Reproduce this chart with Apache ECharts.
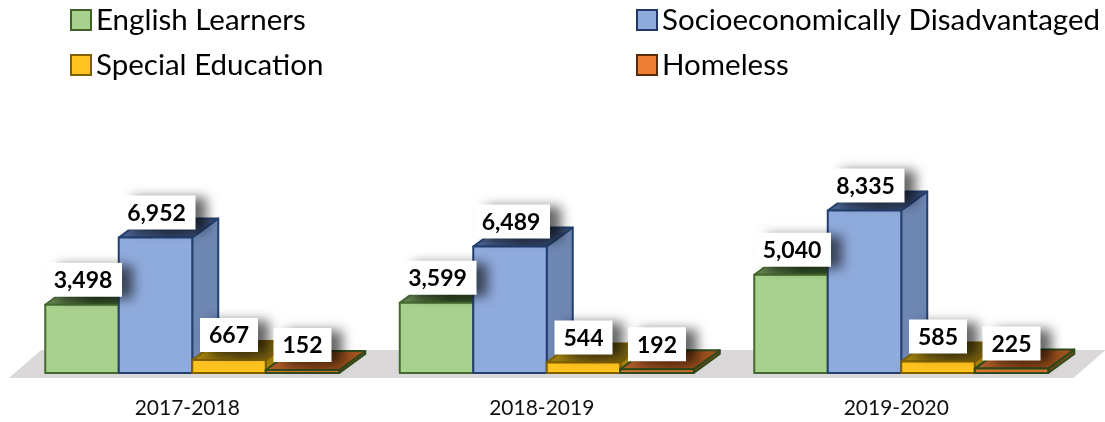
<!DOCTYPE html>
<html><head><meta charset="utf-8">
<style>html,body{margin:0;padding:0;background:#fff}#c{width:1105px;height:422px}</style>
<script src="https://cdn.jsdelivr.net/npm/echarts@6/dist/echarts.min.js"></script>
</head><body><div id="c"></div>
<script>
const categories = ['2017-2018', '2018-2019', '2019-2020'];
const englishLearners = [3498, 3599, 5040];
const socioeconomicallyDisadvantaged = [6952, 6489, 8335];
const specialEducation = [667, 544, 585];
const homeless = [152, 192, 225];

const FONT = 'Lato, Carlito, "Open Sans", sans-serif';
const BAR_FRACTION = 73.5 / 354.5;
const DX = 26, DY = -19;

const grad = (stops) => new echarts.graphic.LinearGradient(0, 0, 1, 0, stops.map((c, i) => ({offset: i / (stops.length - 1), color: c})));

const styles = [
  {name: 'English Learners', front: '#A9D18E', side: '#6f8f5a', top: ['#6f8f5a', '#2f4a22', '#3f5a2e'], edge: '#44692e', values: englishLearners, legend: '#A9D18E', legendEdge: '#3d6128'},
  {name: 'Socioeconomically Disadvantaged', front: '#8FAADC', side: '#6E86B2', top: ['#4f6897', '#2f4060', '#3d5078'], edge: '#23406f', values: socioeconomicallyDisadvantaged, legend: '#8FAADC', legendEdge: '#203864'},
  {name: 'Special Education', front: '#FFC31F', side: '#a5830f', top: ['#a8870f', '#6b5610', '#8a6f10'], edge: '#7F6000', values: specialEducation, legend: '#FFC31F', legendEdge: '#7F6000'},
  {name: 'Homeless', front: '#E0752C', side: '#7f4a18', top: ['#b5602a', '#8a4517', '#a5561f'], edge: '#2f4a1c', values: homeless, legend: '#ED7D31', legendEdge: '#5a2a0c'}
];

function barRender(si) {
  const s = styles[si];
  return function (params, api) {
    const base = api.coord([api.value(0), 0]);
    const topP = api.coord([api.value(0), api.value(1)]);
    const w = api.size([1, 0])[0] * BAR_FRACTION;
    const x0 = base[0] + (si - 2) * w, x1 = x0 + w, yb = base[1], yt = topP[1];
    const line = {stroke: s.edge, lineWidth: 2, lineJoin: 'round'};
    const poly = (pts, fill) => ({type: 'polygon', shape: {points: pts}, style: Object.assign({fill}, line)});
    return {type: 'group', children: [
      poly([[x1, yb], [x1 + DX, yb + DY], [x1 + DX, yt + DY], [x1, yt]], s.side),
      poly([[x0, yt], [x0 + DX, yt + DY], [x1 + DX, yt + DY], [x1, yt]], grad(s.top)),
      poly([[x0, yb], [x1, yb], [x1, yt], [x0, yt]], s.front)
    ]};
  };
}

function floorRender(params) {
  const c = params.coordSys, b = c.y + c.height;
  return {type: 'polygon', shape: {points: [
    [c.x - 6, b + 5], [c.x + 26, b - 23], [c.x + c.width + 27, b - 23], [c.x + c.width - 5, b + 5]
  ]}, style: {fill: '#DAD8D8'}, silent: true};
}

function labelRender(params, api) {
  const si = api.value(2), v = api.value(1);
  const base = api.coord([api.value(0), 0]);
  const topP = api.coord([api.value(0), v]);
  const w = api.size([1, 0])[0] * BAR_FRACTION;
  const cx = base[0] + (si - 1.5) * w;
  const big = v >= 1000;
  const bw = big ? 75 : 58, bh = 34, by = topP[1] - 8 - bh, bx = cx - 29 - (big ? 6 : 0);
  return {type: 'group', children: [
    {type: 'rect', shape: {x: bx, y: by, width: bw, height: bh},
      style: {fill: '#fff', shadowColor: 'rgba(0,0,0,0.6)', shadowBlur: 11, shadowOffsetX: 11, shadowOffsetY: 2}},
    {type: 'text', x: bx + (big ? 36 : 29), y: by + bh / 2 + 1,
      style: {text: v.toLocaleString('en-US'), fill: '#000', font: 'bold 23px ' + FONT, align: 'center', verticalAlign: 'middle'}}
  ]};
}

const labelData = [];
styles.forEach((s, si) => s.values.forEach((v, i) => labelData.push([i, v, si])));

const legendBase = {orient: 'vertical', top: -3, itemWidth: 20, itemHeight: 20, itemGap: 9, icon: 'rect', selectedMode: false,
  textStyle: {fontFamily: FONT, fontSize: 29.5, color: '#000', lineHeight: 36}};
const legendItem = s => ({name: s.name, itemStyle: {color: s.legend, borderColor: s.legendEdge, borderWidth: 2}});

const chart = echarts.init(document.getElementById('c'), null, {renderer: 'canvas'});
chart.setOption({
  animation: false,
  backgroundColor: '#fff',
  legend: [
    Object.assign({}, legendBase, {left: 65, data: [legendItem(styles[0]), legendItem(styles[2])]}),
    Object.assign({}, legendBase, {left: 631, data: [legendItem(styles[1]), legendItem(styles[3])]})
  ],
  grid: {left: 15, width: 1063.5, top: 178, bottom: 49},
  xAxis: {type: 'category', data: categories, axisLine: {show: false}, axisTick: {show: false}, splitLine: {show: false},
    axisLabel: {fontFamily: FONT, fontSize: 21, color: '#111', margin: 25, padding: [0, 10, 0, 0]}},
  yAxis: {type: 'value', min: 0, max: 10000, show: false},
  series: [
    {type: 'custom', name: 'floor', silent: true, renderItem: floorRender, data: [[0, 0]], encode: {x: 0, y: 1}, z: 1}
  ].concat(styles.map((s, si) => ({
    type: 'custom', name: s.name, renderItem: barRender(si), z: 2 + si, silent: true,
    itemStyle: {color: s.legend},
    encode: {x: 0, y: 1},
    data: s.values.map((v, i) => [i, v])
  }))).concat([
    {type: 'custom', name: 'labels', silent: true, renderItem: labelRender, data: labelData, encode: {x: 0, y: 1}, z: 10}
  ])
});
</script></body></html>
